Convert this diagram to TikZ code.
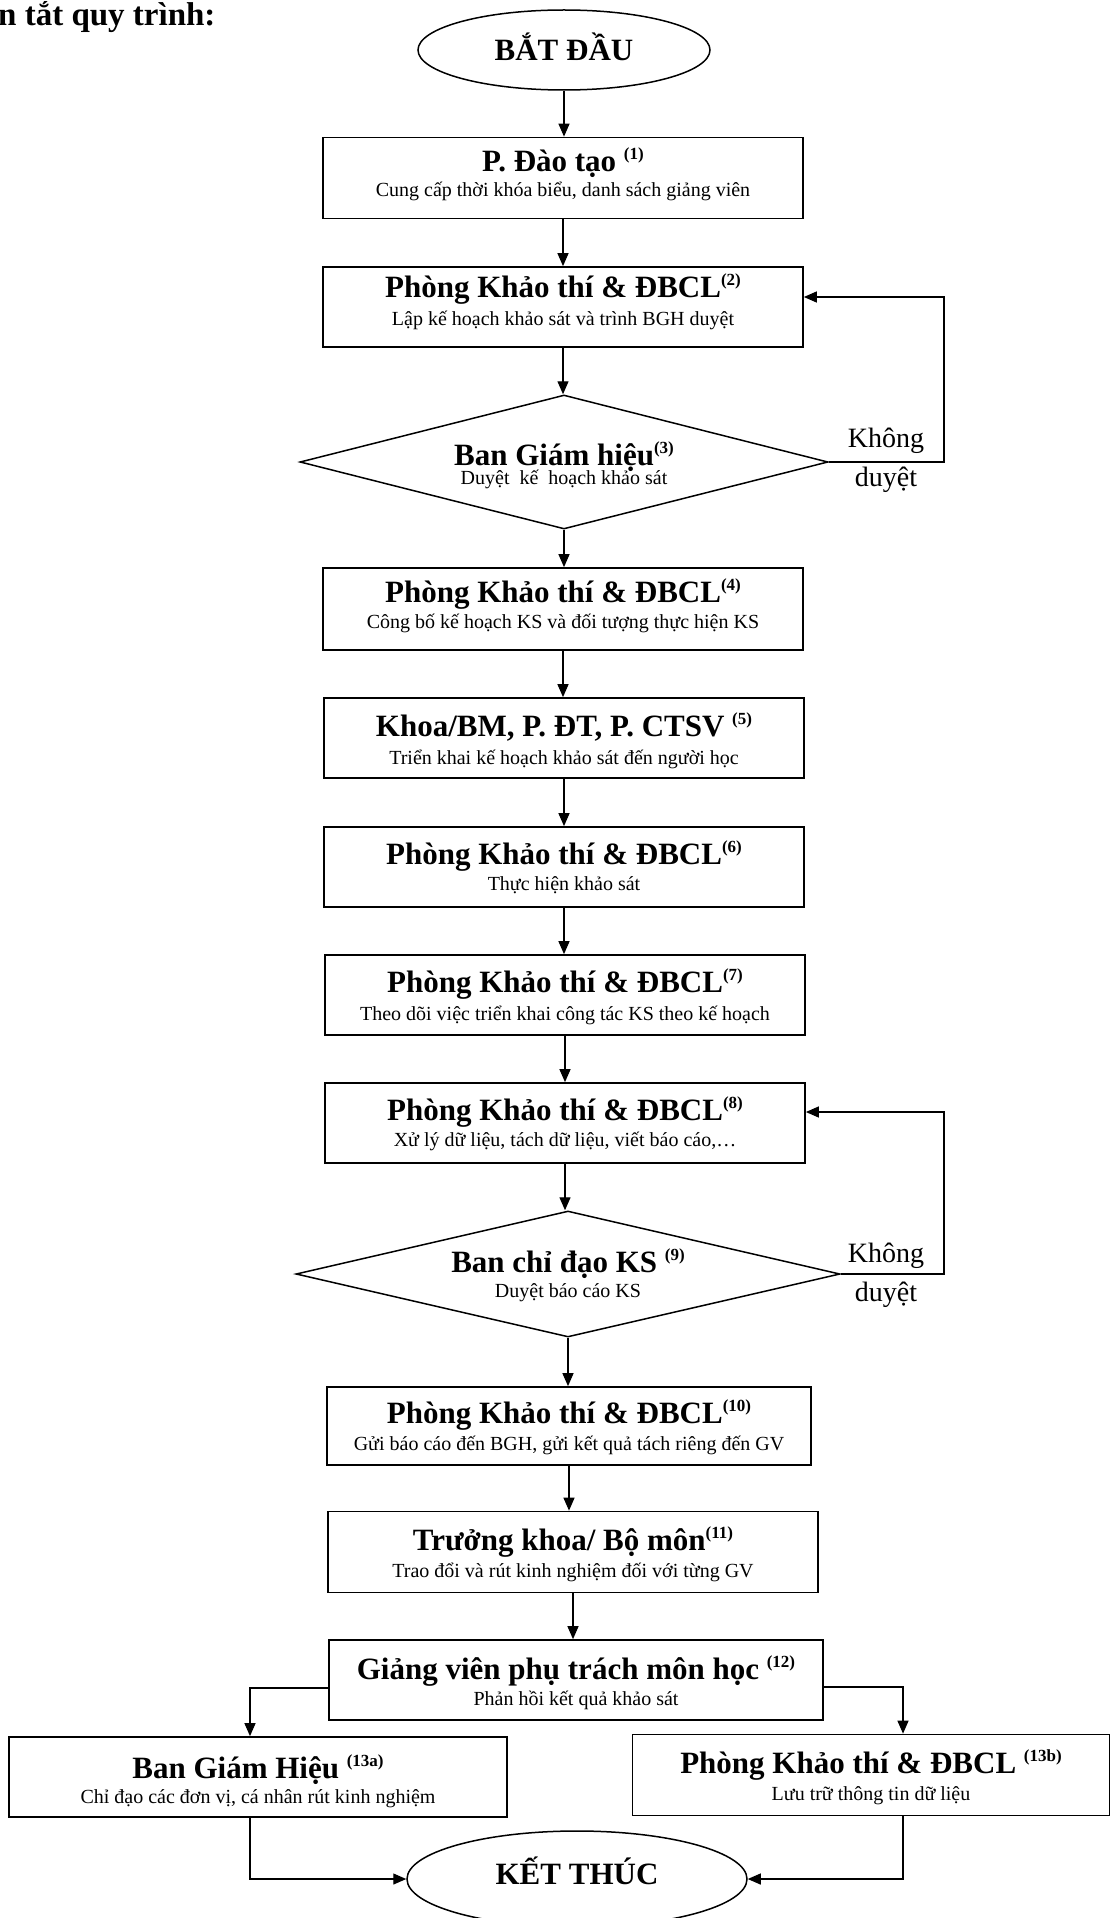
\documentclass[tikz,border=0pt]{standalone}
\usepackage{fontspec}
\setmainfont{Liberation Serif}
\usetikzlibrary{shapes.geometric,arrows.meta}
\newcommand\ttlfont{\fontsize{31}{31}\selectfont\bfseries}
\newcommand\subfont{\fontsize{20}{20}\selectfont}
\newcommand\sx[1]{\raisebox{12pt}{\fontsize{17}{17}\selectfont\bfseries #1}}
\begin{document}
\begin{tikzpicture}[x=1pt,y=-1pt,
  stepbox/.style={draw,line width=1.7pt,rectangle,inner sep=0pt,minimum width=480pt,minimum height=80pt},
  dec/.style={draw,diamond,line width=1.5pt,inner sep=0pt},
  term/.style={draw,ellipse,line width=1.5pt,inner sep=0pt},
  ttl/.style={anchor=base,font=\ttlfont,inner sep=0pt},
  subtxt/.style={anchor=base,font=\subfont,inner sep=0pt},
  lbl/.style={anchor=base,font=\fontsize{28}{28}\selectfont,inner sep=0pt},
  arr/.style={line width=1.3pt,-{Triangle[length=13pt,width=11pt]}}]
\fill[white] (0,0) rectangle (1116,1918);
\useasboundingbox (0,0) rectangle (1116,1918);

\node[anchor=base west,inner sep=0pt,font=\fontsize{33}{33}\selectfont\bfseries] (head) at (-2,26) {n tắt quy trình:};

% start
\node[term,minimum width=292pt,minimum height=80pt] (start) at (564,50) {};
\node[ttl] (startt) at (564,61) {BẮT ĐẦU};

% 1
\node[stepbox,minimum height=81pt] (b1) at (563,178) {};
\node[ttl] (b1t) at (563,172) {P. Đào tạo \sx{(1)}};
\node[subtxt] (b1s) at (563,197) {Cung cấp thời khóa biểu, danh sách giảng viên};

% 2
\node[stepbox] (b2) at (563,307) {};
\node[ttl] (b2t) at (563,297) {Phòng Khảo thí \& ĐBCL\sx{(2)}};
\node[subtxt] (b2s) at (563,325) {Lập kế hoạch khảo sát và trình BGH duyệt};

% 3
\node[dec,minimum width=528pt,minimum height=134pt] (d1) at (564,462) {};
\node[ttl] (d1t) at (564,465) {Ban Giám hiệu\sx{(3)}};
\node[subtxt] (d1s) at (564,484) {Duyệt\ \ kế\ \ hoạch khảo sát};

% 4
\node[stepbox,minimum height=82pt] (b4) at (563,609) {};
\node[ttl] (b4t) at (563,602) {Phòng Khảo thí \& ĐBCL\sx{(4)}};
\node[subtxt] (b4s) at (563,628) {Công bố kế hoạch KS và đối tượng thực hiện KS};

% 5
\node[stepbox] (b5) at (564,738) {};
\node[ttl] (b5t) at (564,736) {Khoa/BM, P. ĐT, P. CTSV \sx{(5)}};
\node[subtxt] (b5s) at (564,764) {Triển khai kế hoạch khảo sát đến người học};

% 6
\node[stepbox] (b6) at (564,867) {};
\node[ttl] (b6t) at (564,864) {Phòng Khảo thí \& ĐBCL\sx{(6)}};
\node[subtxt] (b6s) at (564,890) {Thực hiện khảo sát};

% 7
\node[stepbox] (b7) at (565,995) {};
\node[ttl] (b7t) at (565,992) {Phòng Khảo thí \& ĐBCL\sx{(7)}};
\node[subtxt] (b7s) at (565,1020) {Theo dõi việc triển khai công tác KS theo kế hoạch};

% 8
\node[stepbox] (b8) at (565,1123) {};
\node[ttl] (b8t) at (565,1120) {Phòng Khảo thí \& ĐBCL\sx{(8)}};
\node[subtxt] (b8s) at (565,1146) {Xử lý dữ liệu, tách dữ liệu, viết báo cáo,…};

% 9
\node[dec,minimum width=544pt,minimum height=126pt] (d2) at (568,1274) {};
\node[ttl] (d2t) at (568,1272) {Ban chỉ đạo KS \sx{(9)}};
\node[subtxt] (d2s) at (568,1297) {Duyệt báo cáo KS};

% 10
\node[stepbox,minimum width=484pt,minimum height=78pt] (b10) at (569,1426) {};
\node[ttl] (b10t) at (569,1423) {Phòng Khảo thí \& ĐBCL\sx{(10)}};
\node[subtxt] (b10s) at (569,1450) {Gửi báo cáo đến BGH, gửi kết quả tách riêng đến GV};

% 11
\node[stepbox,minimum width=490pt,minimum height=81pt] (b11) at (573,1552) {};
\node[ttl] (b11t) at (573,1550) {Trưởng khoa/ Bộ môn\sx{(11)}};
\node[subtxt] (b11s) at (573,1577) {Trao đổi và rút kinh nghiệm đối với từng GV};

% 12
\node[stepbox,minimum width=494pt,minimum height=80pt] (b12) at (576,1680) {};
\node[ttl] (b12t) at (576,1679) {Giảng viên phụ trách môn học \sx{(12)}};
\node[subtxt] (b12s) at (576,1705) {Phản hồi kết quả khảo sát};

% 13a
\node[stepbox,minimum width=498pt,minimum height=80pt] (b13a) at (258,1777) {};
\node[ttl] (b13at) at (258,1778) {Ban Giám Hiệu \sx{(13a)}};
\node[subtxt] (b13as) at (258,1803) {Chỉ đạo các đơn vị, cá nhân rút kinh nghiệm};

% 13b
\node[stepbox,minimum width=477pt,minimum height=81pt] (b13b) at (871,1775) {};
\node[ttl] (b13bt) at (871,1773) {Phòng Khảo thí \& ĐBCL \sx{(13b)}};
\node[subtxt] (b13bs) at (871,1800) {Lưu trữ thông tin dữ liệu};

% end
\node[term,minimum width=340pt,minimum height=96pt] (end) at (577,1879) {};
\node[ttl] (endt) at (577,1884) {KẾT THÚC};

% main flow
\draw[arr] (start.south) -- (start.south |- b1.north);
\draw[arr] (b1.south) -- (b1.south |- b2.north);
\draw[arr] (b2.south) -- (b2.south |- d1.north);
\draw[arr] (d1.south) -- (d1.south |- b4.north);
\draw[arr] (b4.south) -- (b4.south |- b5.north);
\draw[arr] (b5.south) -- (b5.south |- b6.north);
\draw[arr] (b6.south) -- (b6.south |- b7.north);
\draw[arr] (b7.south) -- (b7.south |- b8.north);
\draw[arr] (b8.south) -- (b8.south |- d2.north);
\draw[arr] (d2.south) -- (d2.south |- b10.north);
\draw[arr] (b10.south) -- (b10.south |- b11.north);
\draw[arr] (b11.south) -- (b11.south |- b12.north);

% feedback loops
\coordinate (k1) at (944,297);
\draw[arr] (d1.east) -| (k1) -- (b2.east |- k1);
\node[lbl] (no1) at (886,447) {Không};
\node[lbl] (no1b) at (886,486) {duyệt};

\coordinate (k2) at (944,1112);
\draw[arr] (d2.east) -| (k2) -- (b8.east |- k2);
\node[lbl] (no2) at (886,1262) {Không};
\node[lbl] (no2b) at (886,1301) {duyệt};

% branches
\coordinate (la) at (250,1688);
\coordinate (lb) at (903,1687);
\draw[arr] (b12.west |- la) -- (la) -- (la |- b13a.north);
\draw[arr] (b12.east |- lb) -- (lb) -- (lb |- b13b.north);
\draw[arr] (la |- b13a.south) |- (end.west);
\draw[arr] (lb |- b13b.south) |- (end.east);
\end{tikzpicture}
\end{document}
